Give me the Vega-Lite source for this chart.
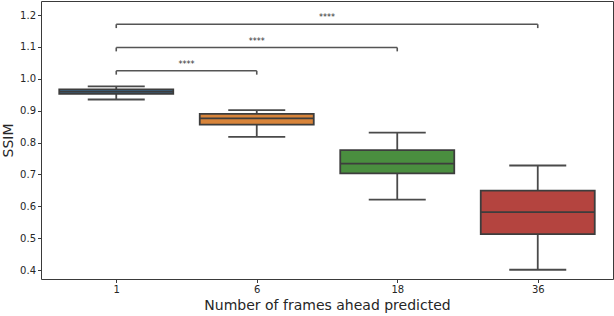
{
  "$schema": "https://vega.github.io/schema/vega-lite/v6.json",
  "autosize": "none",
  "width": 572,
  "height": 278,
  "padding": {"left": 41, "top": 1, "right": 1, "bottom": 37},
  "background": "white",
  "config": {
    "view": {"stroke": "#3a3a3a", "strokeWidth": 1},
    "font": "DejaVu Sans",
    "axis": {"grid": false, "domain": false, "tickColor": "#3a3a3a", "tickSize": 3.5, "labelColor": "#262626", "labelFontSize": 10, "labelFont": "DejaVu Sans", "titleFont": "DejaVu Sans", "titleFontWeight": "normal", "titleColor": "#262626", "titleFontSize": 14}
  },
  "datasets": {
    "boxes": [
      {"pos": 0, "frames": "1", "lower": 0.935, "q1": 0.953, "median": 0.960, "q3": 0.967, "upper": 0.976},
      {"pos": 1, "frames": "6", "lower": 0.818, "q1": 0.856, "median": 0.876, "q3": 0.890, "upper": 0.902},
      {"pos": 2, "frames": "18", "lower": 0.621, "q1": 0.703, "median": 0.734, "q3": 0.776, "upper": 0.831},
      {"pos": 3, "frames": "36", "lower": 0.401, "q1": 0.513, "median": 0.582, "q3": 0.649, "upper": 0.728}
    ],
    "brackets": [
      {"start": 0, "end": 1, "mid": 0.5, "level": 1.025, "foot": 1.013, "label": "****"},
      {"start": 0, "end": 2, "mid": 1.0, "level": 1.098, "foot": 1.086, "label": "****"},
      {"start": 0, "end": 3, "mid": 1.5, "level": 1.171, "foot": 1.159, "label": "****"}
    ]
  },
  "encoding": {
    "x": {"type": "quantitative", "scale": {"domain": [-0.5, 3.5], "nice": false, "zero": false},
          "axis": {"values": [0, 1, 2, 3], "labelExpr": "['1','6','18','36'][datum.value]", "title": "Number of frames ahead predicted", "titlePadding": 4}},
    "y": {"type": "quantitative", "scale": {"domain": [0.372, 1.244], "nice": false, "zero": false},
          "axis": {"values": [0.4, 0.5, 0.6, 0.7, 0.8, 0.9, 1.0, 1.1, 1.2], "labelOverlap": false, "format": ".1f", "title": "SSIM", "titlePadding": 4}}
  },
  "layer": [
    {
      "data": {"name": "boxes"},
      "mark": {"type": "rule", "color": "#4a4a4a", "strokeWidth": 1.8},
      "encoding": {"x": {"field": "pos"}, "y": {"field": "lower"}, "y2": {"field": "upper"}}
    },
    {
      "data": {"name": "boxes"},
      "mark": {"type": "tick", "orient": "horizontal", "size": 57, "thickness": 1.8, "color": "#4a4a4a", "opacity": 1},
      "encoding": {"x": {"field": "pos"}, "y": {"field": "lower"}}
    },
    {
      "data": {"name": "boxes"},
      "mark": {"type": "tick", "orient": "horizontal", "size": 57, "thickness": 1.8, "color": "#4a4a4a", "opacity": 1},
      "encoding": {"x": {"field": "pos"}, "y": {"field": "upper"}}
    },
    {
      "data": {"name": "boxes"},
      "mark": {"type": "bar", "orient": "vertical", "size": 114, "stroke": "#3d3d3d", "strokeWidth": 1.8, "opacity": 1},
      "encoding": {
        "x": {"field": "pos"}, "y": {"field": "q1"}, "y2": {"field": "q3"},
        "fill": {"field": "frames", "type": "nominal", "scale": {"domain": ["1", "6", "18", "36"], "range": ["#3a719b", "#d8843a", "#4a8e3f", "#b4443f"]}, "legend": null}
      }
    },
    {
      "data": {"name": "boxes"},
      "mark": {"type": "tick", "orient": "horizontal", "size": 114, "thickness": 1.8, "color": "#3d3d3d", "opacity": 1},
      "encoding": {"x": {"field": "pos"}, "y": {"field": "median"}}
    },
    {
      "data": {"name": "brackets"},
      "mark": {"type": "rule", "color": "#555555", "strokeWidth": 1.6},
      "encoding": {"x": {"field": "start"}, "x2": {"field": "end"}, "y": {"field": "level"}}
    },
    {
      "data": {"name": "brackets"},
      "mark": {"type": "rule", "color": "#555555", "strokeWidth": 1.6},
      "encoding": {"x": {"field": "start"}, "y": {"field": "foot"}, "y2": {"field": "level"}}
    },
    {
      "data": {"name": "brackets"},
      "mark": {"type": "rule", "color": "#555555", "strokeWidth": 1.6},
      "encoding": {"x": {"field": "end"}, "y": {"field": "foot"}, "y2": {"field": "level"}}
    },
    {
      "data": {"name": "brackets"},
      "mark": {"type": "text", "fontSize": 8, "color": "#333333", "baseline": "bottom", "dy": -2},
      "encoding": {"x": {"field": "mid"}, "y": {"field": "level"}, "text": {"field": "label"}}
    }
  ]
}
